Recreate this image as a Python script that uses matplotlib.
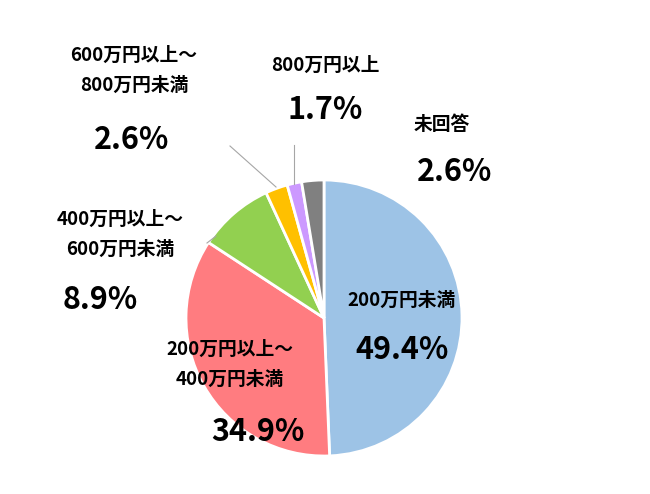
import matplotlib
matplotlib.use("Agg")
import matplotlib.pyplot as plt

plt.rcParams['font.family'] = ['Noto Sans CJK JP', 'DejaVu Sans']

categories = ["200万円未満", "200万円以上～\n400万円未満", "400万円以上～\n600万円未満",
              "600万円以上～\n800万円未満", "800万円以上", "未回答"]
values = [49.4, 34.9, 8.9, 2.6, 1.7, 2.6]
colors = ["#9DC3E6", "#FF7C80", "#92D050", "#FFC000", "#CC99FF", "#808080"]

W, H = 650, 494
fig = plt.figure(figsize=(W / 100, H / 100), dpi=100)

def fx(x, y):
    return x / W, 1 - y / H

cx, cy, r = 324, 318, 138
ax = fig.add_axes([(cx - r) / W, 1 - (cy + r) / H, 2 * r / W, 2 * r / H])
ax.pie(values, colors=colors, startangle=90, counterclock=False,
       wedgeprops=dict(edgecolor="white", linewidth=2))
ax.set_xlim(-1, 1)
ax.set_ylim(-1, 1)
ax.set_aspect("auto")
ax.axis("off")

# label positions in pixels (category text, percent text)
label_pos = [
    ((402, 300), (402, 350)),
    ((230, 364), (258, 432)),
    ((120, 234), (100, 300)),
    ((134, 70), (132, 140)),
    ((325, 65), (325, 110)),
    ((442, 125), (455, 172)),
]
for cat, val, (cp, pp) in zip(categories, values, label_pos):
    fig.text(*fx(*cp), cat, ha="center", va="center", fontsize=13.5,
             fontweight="bold", linespacing=1.75)
    fig.text(*fx(*pp), f"{val}%", ha="center", va="center", fontsize=22,
             fontweight="bold")

# leader lines
for (x0, y0), (x1, y1) in [((207, 243), (216, 236)),
                           ((230, 146), (276, 187)),
                           ((294, 145), (294, 184))]:
    p0, p1 = fx(x0, y0), fx(x1, y1)
    fig.add_artist(plt.Line2D([p0[0], p1[0]], [p0[1], p1[1]],
                              color="#A6A6A6", linewidth=0.8))

fig.savefig("out.png", dpi=100)
